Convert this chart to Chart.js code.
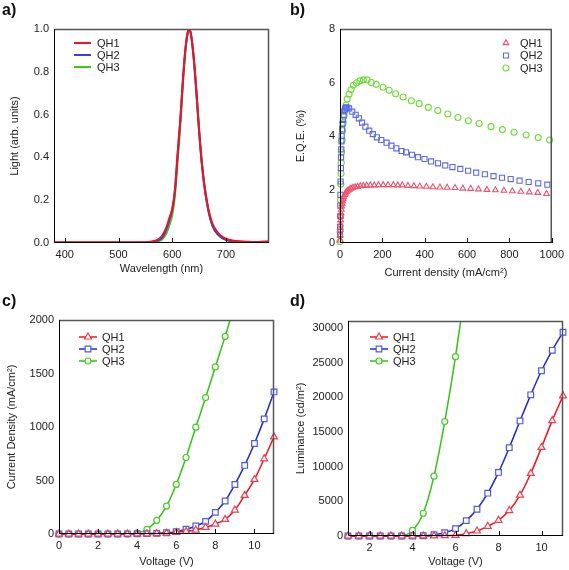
<!DOCTYPE html>
<html>
<head>
<meta charset="utf-8">
<script src="https://cdn.jsdelivr.net/npm/chart.js@4/dist/chart.umd.min.js"></script>
<style>
  body { margin: 0; background: #fff; width: 569px; height: 570px; position: relative; overflow: hidden; font-family: "Liberation Sans", Arial, sans-serif; }
  canvas { position: absolute; }
  .tag { position: absolute; font-weight: bold; font-size: 16px; line-height: 18px; color: #111; }
</style>
</head>
<body>
<canvas id="chartA" width="284" height="285" style="left:0;top:0"></canvas>
<canvas id="chartB" width="285" height="285" style="left:284px;top:0"></canvas>
<canvas id="chartC" width="284" height="285" style="left:0;top:285px"></canvas>
<canvas id="chartD" width="285" height="285" style="left:284px;top:285px"></canvas>
<div class="tag" style="left:2px;top:1px">a)</div>
<div class="tag" style="left:290px;top:1px">b)</div>
<div class="tag" style="left:2px;top:292px">c)</div>
<div class="tag" style="left:290px;top:292px">d)</div>
<script>
// ---- a) EL spectra
const wavelength = [380, 400, 450, 500, 540, 560, 570, 580, 585, 590, 595, 600, 605, 610, 615, 620, 625, 630, 632, 635, 640, 645, 650, 655, 660, 665, 670, 675, 680, 690, 700, 710, 720, 740, 760, 780];
const lightQH1 = [0.003, 0.003, 0.003, 0.003, 0.003, 0.006, 0.012, 0.03, 0.05, 0.08, 0.12, 0.16, 0.25, 0.42, 0.58, 0.77, 0.92, 0.995, 1.0, 0.975, 0.87, 0.71, 0.53, 0.38, 0.27, 0.19, 0.13, 0.09, 0.065, 0.035, 0.02, 0.013, 0.009, 0.006, 0.005, 0.008];
const lightQH2 = [0.001, 0.001, 0.001, 0.001, 0.002, 0.004, 0.009, 0.022, 0.04, 0.07, 0.11, 0.155, 0.245, 0.41, 0.57, 0.765, 0.915, 0.995, 1.0, 0.97, 0.86, 0.70, 0.52, 0.37, 0.26, 0.18, 0.12, 0.08, 0.055, 0.028, 0.015, 0.008, 0.005, 0.002, 0.001, 0.001];
const lightQH3 = [0.001, 0.001, 0.001, 0.001, 0.001, 0.002, 0.005, 0.014, 0.028, 0.05, 0.085, 0.13, 0.22, 0.38, 0.55, 0.75, 0.91, 0.995, 1.0, 0.97, 0.86, 0.70, 0.52, 0.37, 0.26, 0.18, 0.12, 0.08, 0.055, 0.028, 0.015, 0.008, 0.005, 0.002, 0.001, 0.001];
const ticksAx = [400, 500, 600, 700];
const ticksAy = [0, 0.2, 0.4, 0.6, 0.8, 1.0];

// ---- b) EQE vs current density
const jEqeQH1 = [0.3, 0.8, 1.5, 2.2, 3, 4, 5, 6.5, 8, 10, 12.5, 15, 18, 22, 26, 31, 37, 44, 52, 61, 71, 83, 96, 110, 126, 143, 162, 182, 204, 227, 252, 273, 294, 321, 349, 377, 408, 439, 472, 506, 543, 580, 617, 654, 694, 734, 774, 814, 854, 894, 934, 975];
const eqeQH1 = [0.1, 0.3, 0.5, 0.7, 0.85, 1.0, 1.12, 1.25, 1.37, 1.47, 1.56, 1.64, 1.72, 1.8, 1.86, 1.92, 1.96, 2.0, 2.04, 2.07, 2.09, 2.11, 2.13, 2.14, 2.15, 2.16, 2.16, 2.17, 2.17, 2.17, 2.17, 2.16, 2.16, 2.14, 2.13, 2.12, 2.11, 2.09, 2.08, 2.07, 2.06, 2.04, 2.03, 2.01, 1.99, 1.98, 1.96, 1.94, 1.92, 1.9, 1.88, 1.84];
const jEqeQH2 = [0.2, 0.5, 1, 1.5, 2, 3, 4, 5, 6, 7, 8, 10, 12, 14, 17, 20, 24, 28, 34, 43, 58, 74, 89, 104, 120, 138, 155, 174, 195, 220, 243, 266, 291, 312, 340, 368, 399, 430, 463, 497, 531, 568, 605, 643, 684, 725, 765, 806, 848, 891, 936, 979];
const eqeQH2 = [0.3, 0.6, 1.0, 1.4, 1.8, 2.3, 2.8, 3.2, 3.5, 3.8, 4.0, 4.25, 4.45, 4.6, 4.78, 4.92, 5.02, 5.07, 5.05, 5.03, 4.91, 4.79, 4.66, 4.5, 4.35, 4.2, 4.07, 3.95, 3.85, 3.75, 3.64, 3.54, 3.44, 3.39, 3.3, 3.21, 3.14, 3.05, 2.98, 2.9, 2.84, 2.77, 2.7, 2.63, 2.57, 2.5, 2.44, 2.39, 2.33, 2.28, 2.23, 2.18];
const jEqeQH3 = [0, 1, 2, 3, 4, 5, 6, 8, 10, 12, 15, 19, 24, 29, 34, 43, 52, 63, 78, 94, 110, 128, 148, 171, 203, 232, 263, 298, 337, 374, 417, 462, 509, 557, 606, 657, 713, 767, 822, 879, 936, 990];
const eqeQH3 = [0.05, 0.5, 1.0, 1.6, 2.2, 2.6, 3.0, 3.4, 3.85, 4.2, 4.5, 4.75, 4.95, 5.15, 5.38, 5.56, 5.74, 5.9, 5.99, 6.06, 6.1, 6.1, 6.0, 5.93, 5.82, 5.71, 5.58, 5.46, 5.32, 5.21, 5.07, 4.95, 4.82, 4.69, 4.57, 4.47, 4.35, 4.24, 4.14, 4.04, 3.94, 3.85];
const ticksBx = [0, 200, 400, 600, 800, 1000];
const ticksBy = [0, 2, 4, 6, 8];

// ---- c) current density vs voltage
const voltageC = [0, 0.5, 1, 1.5, 2, 2.5, 3, 3.5, 4, 4.5, 5, 5.5, 6, 6.5, 7, 7.5, 8, 8.5, 9, 9.5, 10, 10.5, 11];
const jQH1 = [0, 0, 0, 0, 0, 0, 0, 0, 1, 2, 4, 8, 15, 25, 37, 62, 93, 137, 224, 361, 510, 703, 908];
const jQH2 = [0, 0, 0, 0, 0, 0, 0, 1, 2, 3, 6, 12, 22, 44, 75, 118, 202, 308, 463, 641, 846, 1076, 1328];
const jQH3 = [0, 0, 0, 0, 0, 0, 0, 1, 8, 44, 128, 261, 463, 715, 998, 1275, 1561, 1847, 2150];
const ticksCx = [0, 2, 4, 6, 8, 10];
const ticksCy = [0, 500, 1000, 1500, 2000];

// ---- d) luminance vs voltage
const voltageD = [1, 1.5, 2, 2.5, 3, 3.5, 4, 4.5, 5, 5.5, 6, 6.5, 7, 7.5, 8, 8.5, 9, 9.5, 10, 10.5, 11];
const lumQH1 = [0, 0, 0, 0, 0, 0, 2, 8, 25, 50, 96, 338, 723, 1399, 2267, 3666, 5884, 9019, 12781, 16640, 20209];
const lumQH2 = [0, 0, 0, 0, 0, 0, 0, 30, 193, 482, 1061, 2219, 3859, 6174, 9164, 12733, 16592, 20354, 23827, 26770, 29373];
const lumQH3 = [0, 0, 0, 0, 0, 20, 800, 3280, 8633, 16495, 25853, 36500];
const ticksDx = [2, 4, 6, 8, 10];
const ticksDy = [0, 5000, 10000, 15000, 20000, 25000, 30000];

const FONT = '"Liberation Sans", Arial, sans-serif';
const TXT = '#222';

function pairs(xs, ys) {
  return ys.map((y, i) => ({ x: xs[i], y: y }));
}

function marker(ctx, style, x, y, r, stroke, fill, lw) {
  ctx.beginPath();
  if (style === 'rect') {
    const s = r * Math.SQRT1_2;
    ctx.rect(x - s, y - s, 2 * s, 2 * s);
  } else if (style === 'triangle') {
    let a = 0;
    ctx.moveTo(x + Math.sin(a) * r, y - Math.cos(a) * r);
    a += Math.PI * 2 / 3;
    ctx.lineTo(x + Math.sin(a) * r, y - Math.cos(a) * r);
    a += Math.PI * 2 / 3;
    ctx.lineTo(x + Math.sin(a) * r, y - Math.cos(a) * r);
    ctx.closePath();
  } else {
    ctx.arc(x, y, r, 0, Math.PI * 2);
  }
  ctx.fillStyle = fill;
  ctx.fill();
  ctx.lineWidth = lw;
  ctx.strokeStyle = stroke;
  ctx.stroke();
}

// box around the plot area + inward ticks on the bottom axis
const framePlugin = {
  id: 'frame',
  afterDatasetsDraw(chart) {
    const { ctx, chartArea: a, scales } = chart;
    ctx.save();
    ctx.strokeStyle = '#555';
    ctx.lineWidth = 1.5;
    ctx.beginPath();
    ctx.moveTo(a.left, a.top + 0.5);
    ctx.lineTo(a.right - 0.5, a.top + 0.5);
    ctx.lineTo(a.right - 0.5, a.bottom);
    ctx.stroke();
    ctx.strokeStyle = '#000';
    ctx.lineWidth = 1;
    ctx.beginPath();
    ctx.moveTo(a.left + 0.5, a.top);
    ctx.lineTo(a.left + 0.5, a.bottom - 0.5);
    ctx.lineTo(a.right, a.bottom - 0.5);
    scales.x.ticks.forEach(t => {
      const px = Math.round(scales.x.getPixelForValue(t.value)) + 0.5;
      ctx.moveTo(px, a.bottom);
      ctx.lineTo(px, a.bottom - 5);
    });
    ctx.stroke();
    ctx.restore();
  }
};

// legend drawn inside the plot area
const legendPlugin = {
  id: 'inLegend',
  afterDraw(chart, args, opts) {
    const ctx = chart.ctx;
    ctx.save();
    chart.data.datasets.forEach((ds, i) => {
      const y = opts.y + i * opts.dy;
      if (opts.line) {
        ctx.strokeStyle = ds.borderColor;
        ctx.lineWidth = ds.borderWidth;
        ctx.beginPath();
        ctx.moveTo(opts.x0, y);
        ctx.lineTo(opts.x1, y);
        ctx.stroke();
      }
      if (opts.marker) {
        marker(ctx, ds.pointStyle, (opts.x0 + opts.x1) / 2, y, ds.pointRadius,
               ds.pointBorderColor, ds.pointBackgroundColor, ds.pointBorderWidth);
      }
      ctx.fillStyle = TXT;
      ctx.font = '11px ' + FONT;
      ctx.textBaseline = 'middle';
      ctx.fillText(ds.label, opts.textX, y + 0.5);
    });
    ctx.restore();
  }
};

function axis(min, max, tickVals, title, size, titlePad, fmt) {
  return {
    type: 'linear',
    min: min,
    max: max,
    grid: { display: false, drawTicks: false },
    border: { display: false },
    afterBuildTicks: s => { s.ticks = tickVals.map(v => ({ value: v })); },
    afterFit: s => {
      if (s.isHorizontal()) s.height = size; else s.width = size;
    },
    ticks: {
      color: TXT,
      padding: 5,
      maxRotation: 0,
      font: { family: FONT, size: 11 },
      callback: fmt || (v => v)
    },
    title: {
      display: true,
      text: title,
      color: TXT,
      padding: titlePad,
      font: { family: FONT, size: 11 }
    }
  };
}

function baseOptions(pad, xAxis, yAxis, legend) {
  return {
    responsive: false,
    animation: false,
    events: [],
    layout: { padding: pad },
    plugins: { legend: { display: false }, tooltip: { enabled: false }, inLegend: legend },
    scales: { x: xAxis, y: yAxis }
  };
}

// a)
const specColors = ['rgb(238,20,36)', 'rgb(60,64,215)', 'rgb(60,200,30)'];
new Chart(document.getElementById('chartA'), {
  type: 'line',
  data: {
    datasets: [lightQH1, lightQH2, lightQH3].map((vals, i) => ({
      label: 'QH' + (i + 1),
      data: pairs(wavelength, vals),
      borderColor: specColors[i],
      borderWidth: 2,
      pointRadius: 0,
      cubicInterpolationMode: 'monotone',
      fill: false
    }))
  },
  options: baseOptions({ left: 0, right: 15, top: 29, bottom: 0 },
    axis(380, 780, ticksAx, 'Wavelength (nm)', 42, 9),
    axis(0, 1, ticksAy, 'Light (arb. units)', 54, 8, v => v.toFixed(1)),
    { x0: 74, x1: 91, y: 43, dy: 12, textX: 97, line: true, marker: false }),
  plugins: [framePlugin, legendPlugin]
});

// b)
const eqeStyles = [
  { style: 'triangle', color: 'rgb(240,80,110)', r: 3.3 },
  { style: 'rect', color: 'rgb(95,105,238)', r: 3.6 },
  { style: 'circle', color: 'rgb(110,220,55)', r: 3 }
];
new Chart(document.getElementById('chartB'), {
  type: 'scatter',
  data: {
    datasets: [[jEqeQH1, eqeQH1], [jEqeQH2, eqeQH2], [jEqeQH3, eqeQH3]].map((p, i) => ({
      label: 'QH' + (i + 1),
      data: pairs(p[0], p[1]),
      pointStyle: eqeStyles[i].style,
      pointRadius: eqeStyles[i].r,
      pointBorderColor: eqeStyles[i].color,
      pointBackgroundColor: 'rgba(255,255,255,0)',
      pointBorderWidth: 1.1,
      borderColor: eqeStyles[i].color,
      borderWidth: 1,
      clip: 4
    }))
  },
  options: baseOptions({ left: 0, right: 13, top: 29, bottom: 0 },
    axis(0, 1000, ticksBx, 'Current density (mA/cm²)', 42, 5),
    axis(0, 8, ticksBy, 'E.Q.E. (%)', 56, 10),
    { x0: 218, x1: 226, y: 43, dy: 12.5, textX: 236, line: false, marker: true }),
  plugins: [framePlugin, legendPlugin]
});

// c) and d) share styling
const ivStyles = [
  { style: 'triangle', line: 'rgb(235,22,32)', mark: 'rgb(240,60,80)', r: 4 },
  { style: 'rect', line: 'rgb(32,42,210)', mark: 'rgb(80,90,232)', r: 4 },
  { style: 'circle', line: 'rgb(50,195,20)', mark: 'rgb(70,205,35)', r: 3 }
];
function ivSets(xs, series) {
  return series.map((ys, i) => ({
    label: 'QH' + (i + 1),
    data: pairs(xs, ys),
    borderColor: ivStyles[i].line,
    borderWidth: 1.5,
    pointStyle: ivStyles[i].style,
    pointRadius: ivStyles[i].r,
    pointBorderColor: ivStyles[i].mark,
    pointBackgroundColor: '#fff',
    pointBorderWidth: 1.2,
    cubicInterpolationMode: 'monotone',
    fill: false,
    clip: { left: 6, right: 6, top: 0, bottom: 6 }
  }));
}

new Chart(document.getElementById('chartC'), {
  type: 'line',
  data: { datasets: ivSets(voltageC, [jQH1, jQH2, jQH3]) },
  options: baseOptions({ left: 0, right: 10, top: 35, bottom: 0 },
    axis(0, 11, ticksCx, 'Voltage (V)', 36, 1),
    axis(0, 2000, ticksCy, 'Current Density (mA/cm²)', 59, 5),
    { x0: 79, x1: 97, y: 52, dy: 12, textX: 102, line: true, marker: true }),
  plugins: [framePlugin, legendPlugin]
});

new Chart(document.getElementById('chartD'), {
  type: 'line',
  data: { datasets: ivSets(voltageD, [lumQH1, lumQH2, lumQH3]) },
  options: baseOptions({ left: 0, right: 6, top: 36, bottom: 0 },
    axis(1, 11, ticksDx, 'Voltage (V)', 34, 1),
    axis(0, 31000, ticksDy, 'Luminance (cd/m²)', 64, 10),
    { x0: 86, x1: 104, y: 52, dy: 12, textX: 109, line: true, marker: true }),
  plugins: [framePlugin, legendPlugin]
});
</script>
</body>
</html>
